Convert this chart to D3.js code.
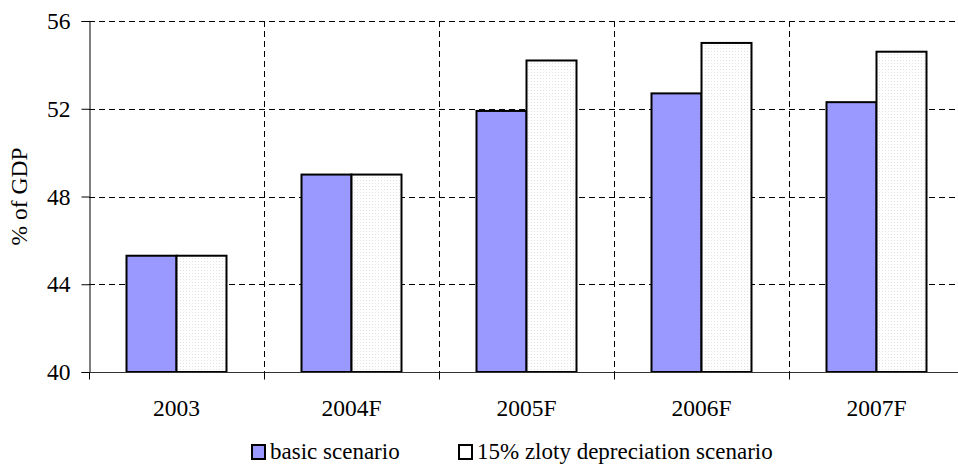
<!DOCTYPE html>
<html>
<head>
<meta charset="utf-8">
<script src="https://cdn.jsdelivr.net/npm/d3@7"></script>
<style>
  html, body { margin: 0; padding: 0; background: #fff; }
  svg { display: block; font-family: "Liberation Serif", "Times New Roman", serif; }
</style>
</head>
<body>
<svg id="chart" width="958" height="465"></svg>
<script>
// Public debt forecast, % of GDP
const categories = ["2003", "2004F", "2005F", "2006F", "2007F"];
const basicScenario = [45.3, 49.0, 51.9, 52.7, 52.3];
const depreciationScenario = [45.3, 49.0, 54.2, 55.0, 54.6];
const yTicks = [40, 44, 48, 52, 56];
const seriesNames = ["basic scenario", "15% zloty depreciation scenario"];

const FONT = "Liberation Serif";
const FS = 23.5;

const svg = d3.select("#chart");
const margin = { left: 89, top: 21, right: -6, bottom: 93 };
const W = 958, H = 465;

const x = d3.scaleBand().domain(categories)
  .range([margin.left, W - margin.right]).paddingInner(0).paddingOuter(0);
const y = d3.scaleLinear().domain([40, 56]).range([H - margin.bottom, margin.top]);

const defs = svg.append("defs");
const pat = defs.append("pattern").attr("id", "dots")
  .attr("width", 3).attr("height", 3).attr("patternUnits", "userSpaceOnUse");
pat.append("rect").attr("width", 3).attr("height", 3).attr("fill", "#fff");
pat.append("rect").attr("width", 1).attr("height", 1).attr("fill", "#e2e2e2");

// dashed grid
const grid = svg.append("g");
grid.selectAll("line.h").data(yTicks.filter(d => d > 40)).join("line")
  .attr("x1", margin.left).attr("x2", W)
  .attr("y1", d => Math.round(y(d)) + 0.5).attr("y2", d => Math.round(y(d)) + 0.5)
  .attr("stroke", "#000").attr("stroke-width", 1).attr("stroke-dasharray", "6,4");
grid.selectAll("line.v").data(categories.slice(1)).join("line")
  .attr("x1", d => Math.round(x(d)) + 0.5).attr("x2", d => Math.round(x(d)) + 0.5)
  .attr("y1", y(56)).attr("y2", y(40))
  .attr("stroke", "#000").attr("stroke-width", 1).attr("stroke-dasharray", "6,4");

// bars
const barW = 50;
const series = [
  { values: basicScenario, fill: "#9999ff", offset: -barW },
  { values: depreciationScenario, fill: "url(#dots)", offset: 0 }
];
series.forEach(s => {
  svg.append("g").selectAll("rect").data(categories).join("rect")
    .attr("x", (d) => x(d) + x.bandwidth() / 2 + s.offset)
    .attr("width", barW)
    .attr("y", (d, i) => y(s.values[i]))
    .attr("height", (d, i) => y(40) - y(s.values[i]))
    .attr("fill", s.fill)
    .attr("stroke", "#000").attr("stroke-width", 2);
});

// y axis
const yAxis = d3.axisLeft(y).tickValues(yTicks).tickSize(8).tickPadding(11).tickFormat(d3.format("d"));
const gy = svg.append("g").attr("transform", `translate(${margin.left + 0.5},0)`).call(yAxis);
gy.select(".domain").attr("stroke", "#000");
gy.selectAll(".tick line").attr("stroke", "#000");
gy.selectAll("text").attr("font-size", FS).attr("fill", "#000").attr("font-family", FONT);

// x axis
const xAxis = d3.axisBottom(x).tickSize(0).tickPadding(0);
const gx = svg.append("g").attr("transform", `translate(0,${y(40) + 0.5})`).call(xAxis);
gx.select(".domain").attr("stroke", "#333").attr("d", `M${margin.left},0H${W}`);
gx.selectAll("text").attr("y", 43).attr("dy", 0)
  .attr("font-size", FS).attr("fill", "#000").attr("font-family", FONT);
gx.selectAll("line.sep").data(categories).join("line")
  .attr("class", "sep")
  .attr("x1", d => Math.round(x(d)) + 0.5).attr("x2", d => Math.round(x(d)) + 0.5)
  .attr("y1", 0).attr("y2", 7).attr("stroke", "#000");

// y label
svg.append("text")
  .attr("transform", `translate(27,${(y(40) + y(56)) / 2}) rotate(-90)`)
  .attr("text-anchor", "middle").attr("font-size", FS).attr("font-family", FONT).text("% of GDP");

// legend
const legendItems = [
  { name: seriesNames[0], fill: "#9999ff", x: 252 },
  { name: seriesNames[1], fill: "#fff", x: 459 }
];
const lg = svg.append("g");
legendItems.forEach(it => {
  lg.append("rect").attr("x", it.x).attr("y", 445).attr("width", 13).attr("height", 14)
    .attr("fill", it.fill).attr("stroke", "#000").attr("stroke-width", 2);
  lg.append("text").attr("x", it.x + 18).attr("y", 459)
    .attr("font-size", 23).attr("font-family", FONT).text(it.name);
});
</script>
</body>
</html>
